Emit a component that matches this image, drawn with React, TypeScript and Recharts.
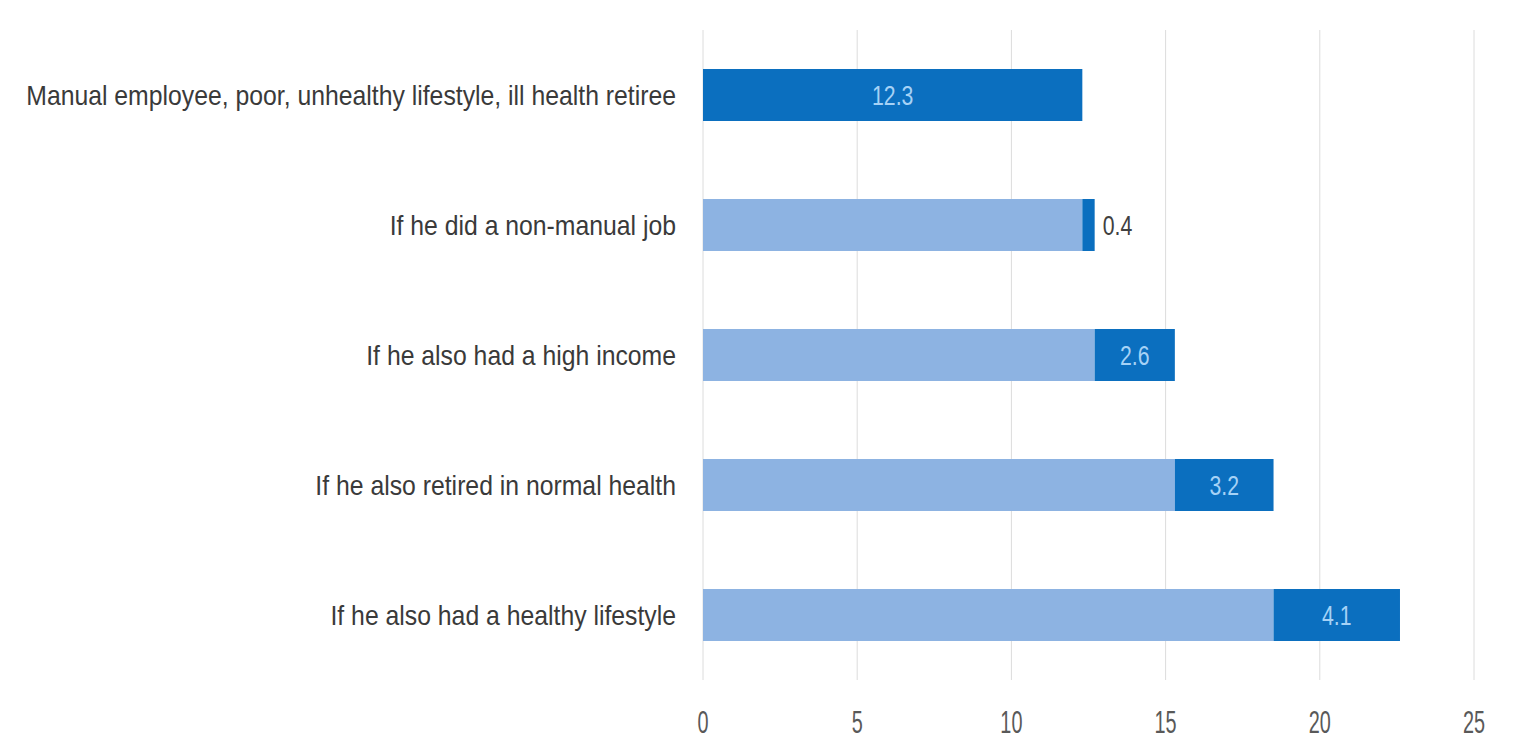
import React from "react";
import { BarChart, Bar, XAxis, YAxis, CartesianGrid, LabelList } from "recharts";

const categories = [
  "Manual employee, poor, unhealthy lifestyle, ill health retiree",
  "If he did a non-manual job",
  "If he also had a high income",
  "If he also retired in normal health",
  "If he also had a healthy lifestyle",
];
const baseValues = [0, 12.3, 12.7, 15.3, 18.5];
const increaseValues = [12.3, 0.4, 2.6, 3.2, 4.1];
const xTicks = [0, 5, 10, 15, 20, 25];

const data = categories.map((name, i) => ({
  name,
  base: baseValues[i],
  increase: increaseValues[i],
}));

const FONT = "'Liberation Sans', Arial, sans-serif";

const CatTick = (props: any) => {
  const { x, y, payload } = props;
  return (
    <g transform={`translate(${x},${y}) scale(0.885,1)`}>
      <text x={0} y={0} dy="0.35em" textAnchor="end" fill="#3a3a3a" fontSize={28} fontFamily={FONT}>
        {payload.value}
      </text>
    </g>
  );
};

const NumTick = (props: any) => {
  const { x, y, payload } = props;
  return (
    <g transform={`translate(${x},${y}) scale(0.62,1)`}>
      <text x={0} y={0} dy="0.35em" textAnchor="middle" fill="#595959" fontSize={32} fontFamily={FONT}>
        {payload.value}
      </text>
    </g>
  );
};

const IncLabel = (props: any) => {
  const { x, y, width, height, value } = props;
  const inside = value >= 1;
  const tx = inside ? x + width / 2 : x + width + 8;
  const ty = y + height / 2;
  return (
    <g transform={`translate(${tx},${ty}) scale(0.76,1)`}>
      <text
        x={0}
        y={0}
        dy="0.35em"
        textAnchor={inside ? "middle" : "start"}
        fill={inside ? "#a6d2f6" : "#404040"}
        fontSize={28}
        fontFamily={FONT}
      >
        {value}
      </text>
    </g>
  );
};

export default function App() {
  return (
    <div style={{ width: 1497, height: 740, background: "#fff" }}>
      <BarChart
        width={1497}
        height={740}
        data={data}
        layout="vertical"
        margin={{ top: 22, right: 31, bottom: 18, left: 0 }}
        barCategoryGap="30%"
      >
        <CartesianGrid horizontal={false} vertical={true} stroke="#dcdcdc" />
        <XAxis
          type="number"
          domain={[0, 25]}
          ticks={xTicks}
          axisLine={false}
          tickLine={false}
          tickSize={0}
          tickMargin={42}
          height={50}
          tick={<NumTick />}
        />
        <YAxis
          type="category"
          dataKey="name"
          width={695}
          axisLine={false}
          tickLine={false}
          tickSize={0}
          tickMargin={27}
          tick={<CatTick />}
        />
        <Bar dataKey="base" stackId="a" fill="#8db3e2" isAnimationActive={false} />
        <Bar dataKey="increase" stackId="a" fill="#0b6fbf" isAnimationActive={false}>
          <LabelList dataKey="increase" content={<IncLabel />} />
        </Bar>
      </BarChart>
    </div>
  );
}
